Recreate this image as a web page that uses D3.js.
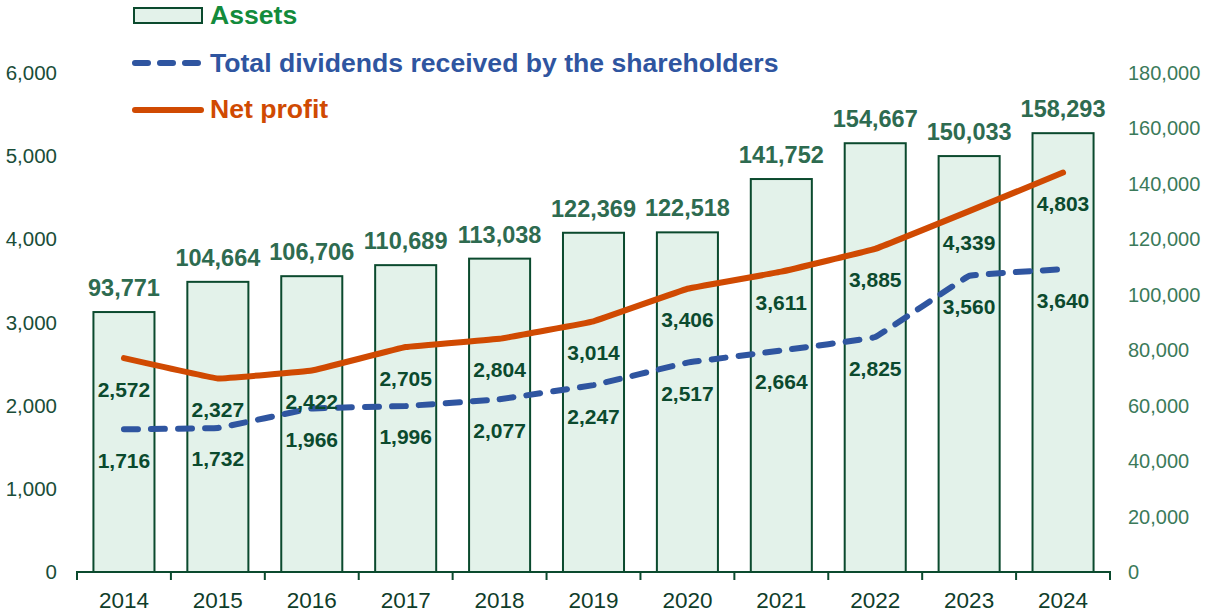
<!DOCTYPE html>
<html><head><meta charset="utf-8">
<script src="https://cdn.jsdelivr.net/npm/d3@7"></script>
<style>body{margin:0;background:#fff}svg{display:block;font-family:"Liberation Sans",Arial,sans-serif}</style>
</head><body><svg id="c" width="1207" height="612"></svg>
<script>
const years = ["2014","2015","2016","2017","2018","2019","2020","2021","2022","2023","2024"];
const assets = [93771,104664,106706,110689,113038,122369,122518,141752,154667,150033,158293];
const dividends = [1716,1732,1966,1996,2077,2247,2517,2664,2825,3560,3640];
const netProfit = [2572,2327,2422,2705,2804,3014,3406,3611,3885,4339,4803];
const leftTicks = [0,1000,2000,3000,4000,5000,6000];
const rightTicks = [0,20000,40000,60000,80000,100000,120000,140000,160000,180000];

const svg = d3.select("#c");
const x = d3.scaleBand().domain(years).range([77,1110]).paddingInner(0.35).paddingOuter(0.175);
const yL = d3.scaleLinear().domain([0,6000]).range([572,73]);
const yR = d3.scaleLinear().domain([0,180000]).range([572,73]);
const fmt = d3.format(",");

// bars
svg.append("g").selectAll("rect").data(years).join("rect")
  .attr("x", d=>x(d)).attr("width", x.bandwidth())
  .attr("y", (d,i)=>yR(assets[i])).attr("height",(d,i)=>yR(0)-yR(assets[i]))
  .attr("fill","#E3F2EA").attr("stroke","#0B4A2E").attr("stroke-width",2);

// bar labels
svg.append("g").selectAll("text").data(years).join("text")
  .attr("x", d=>x(d)+x.bandwidth()/2).attr("y",(d,i)=>yR(assets[i])-16)
  .attr("text-anchor","middle").attr("font-size",23.5).attr("font-weight","bold")
  .attr("fill","#2E6B50").text((d,i)=>fmt(assets[i]));

// x axis
const xAxis = svg.append("g").attr("transform","translate(0,572)");
xAxis.append("line").attr("x1",76).attr("x2",1111).attr("stroke","#0B4A2E").attr("stroke-width",2);
const bounds = years.map(d=>x(d)-x.step()*x.paddingInner()/2).concat([1110]);
xAxis.selectAll("line.t").data(bounds).join("line").attr("class","t")
  .attr("x1",d=>d).attr("x2",d=>d).attr("y1",0).attr("y2",8).attr("stroke","#0B4A2E").attr("stroke-width",2);
xAxis.selectAll("text").data(years).join("text")
  .attr("x",d=>x(d)+x.bandwidth()/2).attr("y",36).attr("text-anchor","middle")
  .attr("font-size",22.5).attr("fill","#0F3D2A").text(d=>d);

// left axis labels
svg.append("g").selectAll("text").data(leftTicks).join("text")
  .attr("x",57).attr("y",d=>yL(d)+7).attr("text-anchor","end")
  .attr("font-size",20.5).attr("fill","#1A4D38").text(d=>fmt(d));
// right axis labels
svg.append("g").selectAll("text").data(rightTicks).join("text")
  .attr("x",1128).attr("y",d=>yR(d)+7).attr("text-anchor","start")
  .attr("font-size",20).attr("fill","#3B7A5A").text(d=>fmt(d));

const cx = d=>x(d)+x.bandwidth()/2;
const line = vals => d3.line().x((d,i)=>cx(years[i])).y(d=>yL(d)).curve(d3.curveCardinal.tension(0.85))(vals);

svg.append("path").attr("d",line(dividends)).attr("fill","none").attr("stroke","#2F55A0")
  .attr("stroke-width",6).attr("stroke-dasharray","14,13").attr("stroke-linecap","round").attr("stroke-linejoin","round");
svg.append("path").attr("d",line(netProfit)).attr("fill","none").attr("stroke","#D04A02")
  .attr("stroke-width",6).attr("stroke-linecap","round").attr("stroke-linejoin","round");

// line labels
[dividends, netProfit].forEach(vals=>{
  svg.append("g").selectAll("text").data(vals).join("text")
    .attr("x",(d,i)=>cx(years[i])).attr("y",d=>yL(d)+38.5).attr("text-anchor","middle")
    .attr("font-size",21).attr("font-weight","bold").attr("fill","#0B4A2E").text(d=>fmt(d));
});

// legend
const lg = svg.append("g");
lg.append("rect").attr("x",134).attr("y",8).attr("width",68).attr("height",15)
  .attr("fill","#E3F2EA").attr("stroke","#0B4A2E").attr("stroke-width",2);
lg.append("text").attr("x",210).attr("y",24).attr("font-size",26.6).attr("font-weight","bold").attr("fill","#138B3C").text("Assets");
lg.append("line").attr("x1",135).attr("x2",200).attr("y1",63).attr("y2",63).attr("stroke","#2F55A0")
  .attr("stroke-width",6).attr("stroke-dasharray","13,12").attr("stroke-linecap","round");
lg.append("text").attr("x",210).attr("y",72).attr("font-size",26.6).attr("font-weight","bold").attr("fill","#2F55A0").text("Total dividends received by the shareholders");
lg.append("line").attr("x1",135).attr("x2",201).attr("y1",110).attr("y2",110).attr("stroke","#D04A02")
  .attr("stroke-width",6).attr("stroke-linecap","round");
lg.append("text").attr("x",210).attr("y",118).attr("font-size",26.6).attr("font-weight","bold").attr("fill","#D04A02").text("Net profit");
</script></body></html>
